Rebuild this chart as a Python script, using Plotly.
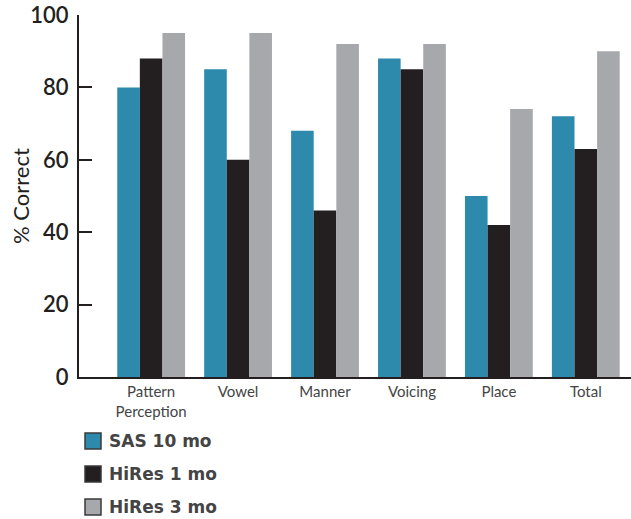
import plotly.graph_objects as go

categories = ["Pattern<br>Perception", "Vowel", "Manner", "Voicing", "Place", "Total"]
sas_10mo = [80, 85, 68, 88, 50, 72]
hires_1mo = [88, 60, 46, 85, 42, 63]
hires_3mo = [95, 95, 92, 92, 74, 90]
series_names = ["SAS 10 mo", "HiRes 1 mo", "HiRes 3 mo"]
colors = ["#2E8AAD", "#231F20", "#A7A8AC"]

fig = go.Figure()
for name, vals, col in zip(series_names, [sas_10mo, hires_1mo, hires_3mo], colors):
    fig.add_trace(go.Bar(
        x=list(range(len(categories))), y=vals, name=name,
        marker=dict(color=col, line=dict(width=0)),
        showlegend=False,
    ))

# manual legend (swatches + labels) below plot
plot_h = 519 - 15 - 142
for i, (name, col) in enumerate(zip(series_names, colors)):
    cy = 441 + i * 33  # pixel center of the row
    y_paper = (377 - cy) / plot_h
    half = 8 / plot_h
    fig.add_shape(type="rect", xref="paper", yref="paper",
                  x0=(85 - 79) / 552, x1=(101 - 79) / 552,
                  y0=y_paper - half, y1=y_paper + half,
                  fillcolor=col, line=dict(color="#3a3a3a", width=1.5))
    fig.add_annotation(xref="paper", yref="paper", x=(107 - 79) / 552, y=y_paper,
                       xanchor="left", yanchor="middle", showarrow=False,
                       text="<b>" + name + "</b>",
                       font=dict(size=17, color="#444444", family="DejaVu Sans, sans-serif"))

# y-axis title
fig.add_annotation(xref="paper", yref="paper", x=(20 - 79) / 552, y=0.5,
                   xanchor="center", yanchor="middle", showarrow=False, textangle=-90,
                   text="% Correct", font=dict(size=22, color="#231F20", family="Lato, sans-serif"))

fig.update_layout(
    width=631, height=519,
    margin=dict(l=79, r=0, t=15, b=142, autoexpand=False),
    plot_bgcolor="white", paper_bgcolor="white",
    barmode="group", bargap=0.22, bargroupgap=0,
    font=dict(family="Lato, sans-serif", color="#231F20"),
    showlegend=False,
    xaxis=dict(
        tickmode="array", tickvals=list(range(len(categories))), ticktext=categories,
        range=[-0.83, 5.52],
        showline=True, linecolor="#231F20", linewidth=2,
        ticks="", showgrid=False, zeroline=False,
        tickfont=dict(size=15, color="#444444", family="Lato, sans-serif"),
    ),
    yaxis=dict(
        range=[0, 100], tickvals=[0, 20, 40, 60, 80, 100],
        showline=True, linecolor="#231F20", linewidth=2,
        ticks="inside", ticklen=13, tickwidth=2, tickcolor="#231F20",
        showgrid=False, zeroline=False,
        ticklabelstandoff=4,
        tickfont=dict(size=22, color="#231F20", family="Lato, sans-serif", weight=600),
    ),
)

fig.write_html("out.html")
